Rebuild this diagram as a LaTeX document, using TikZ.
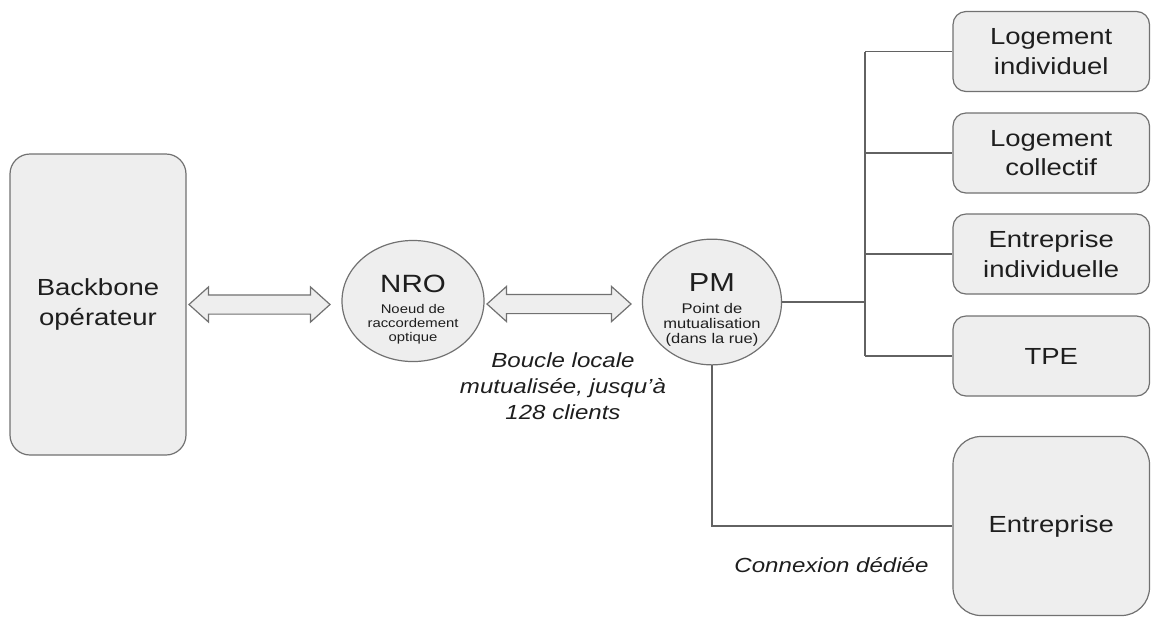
\documentclass[tikz,border=0pt]{standalone}
\usepackage{fontspec}
\setmainfont{Liberation Sans}[FakeStretch=1.18]
\usetikzlibrary{shapes.geometric,shapes.arrows}
\definecolor{boxgray}{HTML}{EEEEEE}
\definecolor{edgegray}{HTML}{717171}
\definecolor{linkgray}{HTML}{626262}
\definecolor{inkgray}{HTML}{1E1E1E}
\tikzset{
  box/.style={draw=edgegray, fill=boxgray, line width=0.6pt, inner sep=0,
    align=center, text=inkgray, minimum width=98.25pt,
    font=\fontsize{11.65}{14.75}\selectfont},
  hub/.style={ellipse, draw=edgegray, fill=boxgray, line width=0.6pt,
    inner sep=0, align=center, text=inkgray},
  dblarrow/.style={double arrow, draw=edgegray, fill=boxgray, line width=0.6pt,
    inner xsep=0, inner ysep=4.5pt, double arrow tip angle=84,
    double arrow head extend=4pt},
  link/.style={draw=linkgray, line width=0.6pt},
  note/.style={align=center, text=inkgray,
    font=\itshape\fontsize{10.2}{13}\selectfont}
}
\begin{document}
\begin{tikzpicture}[x=0.5pt, y=-0.5pt]
  \useasboundingbox (0,0) rectangle (1151,617);

  % Backbone and the two hubs
  \node[box, minimum width=88pt, minimum height=150.5pt, rounded corners=10pt]
    (backbone) at (98,304.5) {Backbone\\opérateur};
  \node[hub, minimum width=71pt, minimum height=57pt, font=\fontsize{6.3}{7}\selectfont]
    (nro) at (413,301) {\rule{0pt}{17pt}{\fontsize{12.5}{12}\selectfont NRO}\\[3.5pt]Noeud de\\raccordement\\optique};
  \node[hub, minimum width=69.5pt, minimum height=58pt, font=\fontsize{7}{7.5}\selectfont]
    (pm) at (712,302) {\rule{0pt}{17pt}{\fontsize{13}{13}\selectfont PM}\\[3.5pt]Point de\\mutualisation\\(dans la rue)};

  % Double arrows
  \node[dblarrow, minimum height=70.5pt] (arrowa) at (259.5,304.5) {};
  \node[dblarrow, minimum height=72pt] (arrowb) at (559,304) {};

  % Subscriber boxes
  \foreach \t/\y [count=\i] in {{Logement\\individuel}/51.5, {Logement\\collectif}/153,
      {Entreprise\\individuelle}/254, TPE/356} {
    \node[box, minimum height=40pt, rounded corners=6.5pt] (sub\i) at (1051.25,\y) {\t};
  }
  \node[box, minimum height=89.5pt, rounded corners=14pt] (ent) at (1051.25,526) {Entreprise};

  % Connections
  \coordinate (bus) at (865,305);
  \draw[link] (pm.east) -- (pm.east -| bus);
  \draw[link] (bus |- sub1.west) -- (bus |- sub4.west);
  \foreach \i in {1,...,4} {
    \draw[link] (bus |- sub\i.west) -- (sub\i.west);
  }
  \draw[link] (pm.south) |- (ent.west);

  % Notes
  \node[note] (loop) at (563,386) {Boucle locale\\mutualisée, jusqu’à\\128 clients};
  \node[note] (dedicated) at (831.5,565) {Connexion dédiée};
\end{tikzpicture}
\end{document}
